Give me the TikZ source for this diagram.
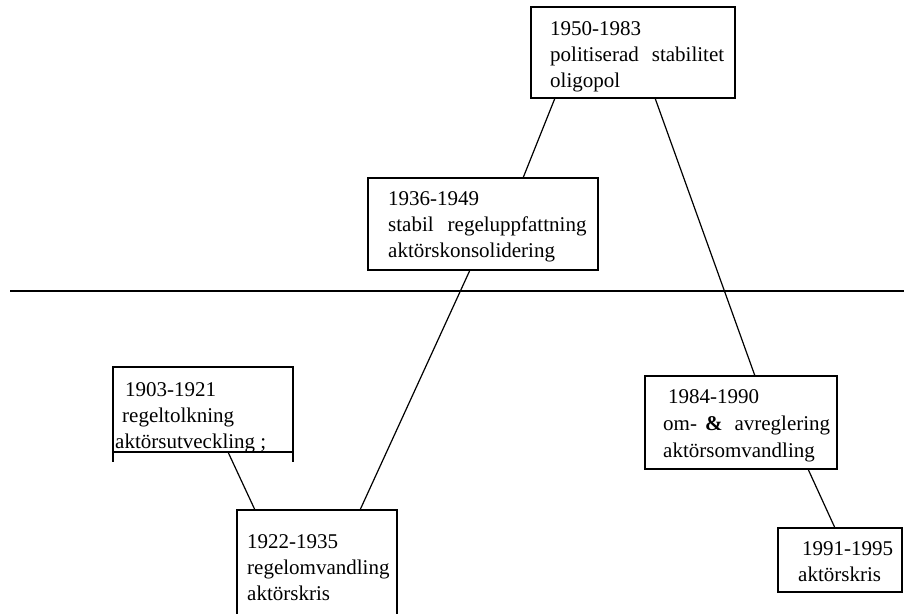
\documentclass[tikz,border=0pt]{standalone}
\usepackage{fontspec}
\setmainfont{Liberation Serif}
\usepackage{tikz}
\usetikzlibrary{calc}

\tikzset{
  period/.style={anchor=north west, rectangle, draw=black, line width=1.6pt, inner sep=0pt, outer sep=0pt},
  periodtext/.style={anchor=north west, inner sep=0pt, align=left, font=\fontsize{21}{26}\selectfont},
  link/.style={line width=1.2pt},
}

\begin{document}
\begin{tikzpicture}[x=1pt, y=-1pt]
        \useasboundingbox (0,0) rectangle (904,613);

        %% Boxes
        \node (b1950) [period, minimum width=204pt, minimum height=91pt] at (531,7) {};
        \node (b1936) [period, minimum width=230pt, minimum height=92pt] at (368,178) {};
        \node (b1903) [period, minimum width=180pt, minimum height=85pt] at (113,367) {};
        \node (b1922) [period, minimum width=160pt, minimum height=115pt] at (237,510) {};
        \node (b1984) [period, minimum width=192pt, minimum height=93pt] at (645,376) {};
        \node (b1991) [period, minimum width=124pt, minimum height=64pt] at (778,528) {};

        %% Texts
        \node (t1950) [periodtext] at (550,21) {1950-1983\\politiserad\hspace{13pt}stabilitet\\oligopol};
        \node (t1936) [periodtext] at (388,191) {1936-1949\\stabil\hspace{14pt}regeluppfattning\\aktörskonsolidering};
        \node (t1903) [periodtext] at (115,382) {\hspace{10pt}1903-1921\\\hspace{7pt}regeltolkning\\aktörsutveckling ;};
        \node (t1922) [periodtext] at (247,534) {1922-1935\\regelomvandling\\aktörskris};
        \node (t1984) [periodtext, font=\fontsize{21}{27}\selectfont] at (663,389) {\hspace{5pt}1984-1990\\om-\hspace{8pt}\textbf{\&}\hspace{12pt}avreglering\\aktörsomvandling};
        \node (t1991) [periodtext] at (798,541) {\hspace{4pt}1991-1995\\aktörskris};

        %% open ends under the first box
        \draw [link] (b1903.south west) -- ++(0,10);
        \draw [link] (b1903.south east) -- ++(0,10);

        %% Divider
        \draw [link] (10,291) -- (904,291);

        %% Links
        \draw [link] ($(b1950.south west) + (24,0)$) -- ($(b1936.north west) + (155,0)$);
        \draw [link] ($(b1950.south west) + (124,0)$) -- ($(b1984.north west) + (110,0)$);
        \draw [link] ($(b1936.south west) + (102,0)$) -- ($(b1922.north west) + (123,0)$);
        \draw [link] ($(b1903.south west) + (115,0)$) -- ($(b1922.north west) + (18,0)$);
        \draw [link] ($(b1984.south west) + (163,0)$) -- ($(b1991.north west) + (57,0)$);

\end{tikzpicture}
\end{document}
